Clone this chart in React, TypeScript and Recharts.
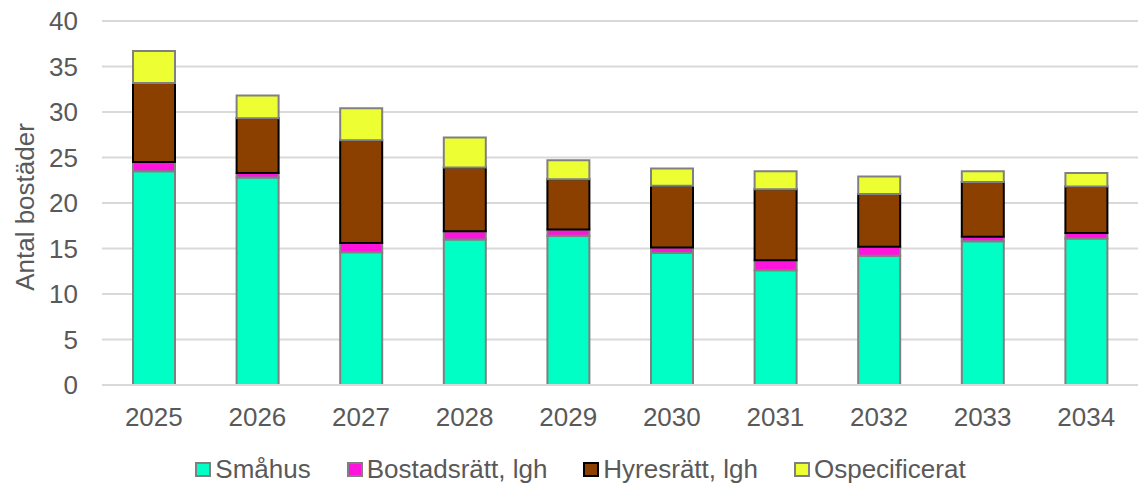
import React from 'react';
import { BarChart, Bar, XAxis, YAxis, CartesianGrid, Legend, Label } from 'recharts';

const years = ['2025', '2026', '2027', '2028', '2029', '2030', '2031', '2032', '2033', '2034'];
const smahus = [23.5, 22.8, 14.6, 16.0, 16.4, 14.5, 12.6, 14.2, 15.8, 16.1];
const bostadsratt = [1.0, 0.5, 1.0, 0.9, 0.7, 0.6, 1.1, 1.0, 0.5, 0.6];
const hyresratt = [8.7, 6.0, 11.3, 7.0, 5.5, 6.8, 7.8, 5.8, 6.0, 5.1];
const ospecificerat = [3.5, 2.5, 3.5, 3.3, 2.1, 1.9, 2.0, 1.9, 1.2, 1.5];
const yTicks = [0, 5, 10, 15, 20, 25, 30, 35, 40];

const SERIES = [
  { key: 'smahus', name: 'Småhus', fill: '#00FFC4', stroke: '#808080' },
  { key: 'bostadsratt', name: 'Bostadsrätt, lgh', fill: '#FF14DD', stroke: '#808080' },
  { key: 'hyresratt', name: 'Hyresrätt, lgh', fill: '#8B4000', stroke: '#000000' },
  { key: 'ospecificerat', name: 'Ospecificerat', fill: '#EDFF32', stroke: '#808080' },
];

const data = years.map((year, i) => ({
  year,
  smahus: smahus[i],
  bostadsratt: bostadsratt[i],
  hyresratt: hyresratt[i],
  ospecificerat: ospecificerat[i],
}));

const FONT = '"Liberation Sans", Arial, sans-serif';
const TEXT = '#595959';

const LegendContent = () => (
  <div
    style={{
      display: 'flex',
      justifyContent: 'center',
      paddingTop: 26,
      paddingLeft: 20,
      fontFamily: FONT,
      fontSize: 26,
      lineHeight: '26px',
      color: TEXT,
    }}
  >
    {SERIES.map((s, i) => (
      <div key={s.key} style={{ display: 'flex', alignItems: 'center', marginLeft: i === 0 ? 0 : 36 }}>
        <span
          style={{
            display: 'inline-block',
            boxSizing: 'border-box',
            width: 16,
            height: 15,
            background: s.fill,
            border: `2px solid ${s.stroke}`,
            marginRight: 4,
          }}
        />
        <span>{s.name}</span>
      </div>
    ))}
  </div>
);

// rotated y-axis title
const YTitle = () => (
  <text
    x={25}
    y={207}
    transform="rotate(-90, 25, 207)"
    textAnchor="middle"
    dominantBaseline="central"
    fill={TEXT}
    fontSize={26}
    fontFamily={FONT}
  >
    Antal bostäder
  </text>
);

export default function App() {
  return (
    <div style={{ position: 'absolute', left: 0, top: 0, width: 1141, height: 485, background: '#fff' }}>
      <BarChart
        width={1141}
        height={485}
        data={data}
        margin={{ top: 21, right: 3, left: 0, bottom: 0 }}
        barSize={42}
      >
        <CartesianGrid vertical={false} stroke="#d9d9d9" strokeWidth={2} />
        <XAxis
          dataKey="year"
          height={45}
          axisLine={{ stroke: '#d9d9d9', strokeWidth: 2 }}
          tickLine={false}
          tickSize={0}
          tickMargin={23}
          tick={{ fill: TEXT, fontSize: 26, fontFamily: FONT }}
        />
        <YAxis
          width={102}
          domain={[0, 40]}
          ticks={yTicks}
          interval={0}
          axisLine={false}
          tickLine={false}
          tickSize={0}
          tickMargin={24}
          tick={{ fill: TEXT, fontSize: 26, fontFamily: FONT }}
        >
          <Label content={() => <YTitle />} />
        </YAxis>
        <Legend verticalAlign="bottom" height={55} content={<LegendContent />} wrapperStyle={{ left: 0, width: 1141 }} />
        {SERIES.map((s) => (
          <Bar
            key={s.key}
            dataKey={s.key}
            name={s.name}
            stackId="a"
            fill={s.fill}
            stroke={s.stroke}
            strokeWidth={2}
            isAnimationActive={false}
          />
        ))}
      </BarChart>
    </div>
  );
}
